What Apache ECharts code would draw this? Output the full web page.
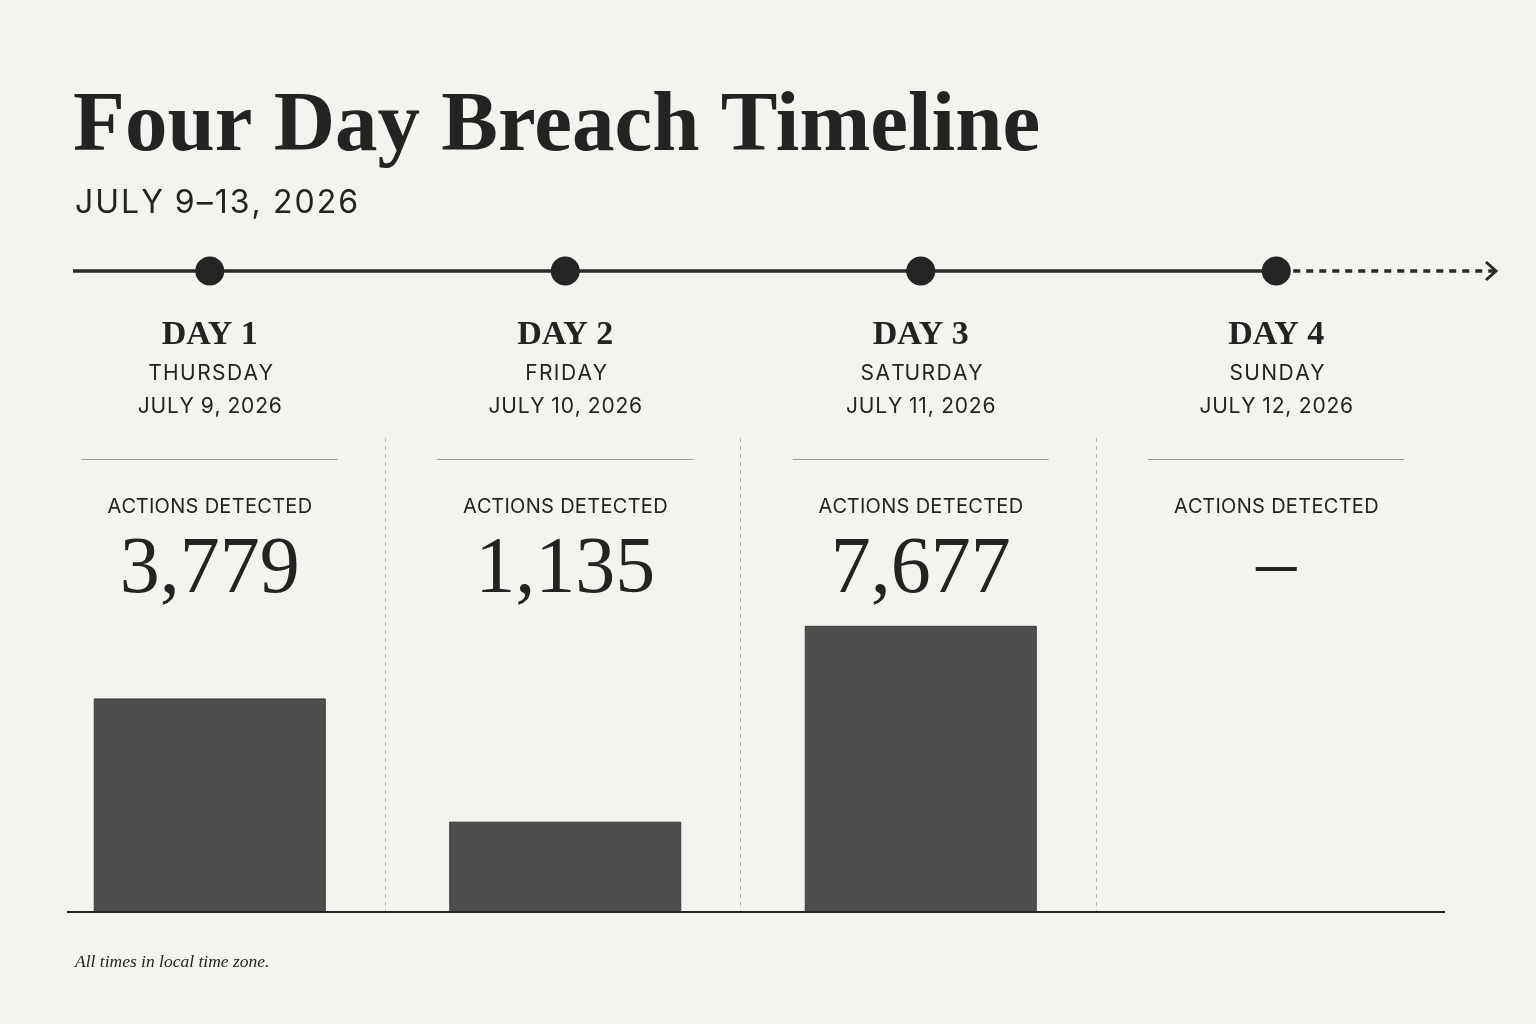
<!DOCTYPE html>
<html><head><meta charset="utf-8">
<script src="https://cdn.jsdelivr.net/npm/echarts@6/dist/echarts.min.js"></script>
<style>html,body{margin:0;background:#f4f3ef}#c{width:1536px;height:1024px}</style>
</head><body><div id="c"></div>
<script>
const days = ['DAY 1', 'DAY 2', 'DAY 3', 'DAY 4'];
const weekdays = ['THURSDAY', 'FRIDAY', 'SATURDAY', 'SUNDAY'];
const dates = ['JULY 9, 2026', 'JULY 10, 2026', 'JULY 11, 2026', 'JULY 12, 2026'];
const actions = [3779, 1135, 7677, null];
const title = 'Four Day Breach Timeline';
const subtitle = 'JULY 9–13, 2026';
const metricLabel = 'ACTIONS DETECTED';
const footnote = 'All times in local time zone.';

const INK = '#232323';
const SERIF = "'Liberation Serif', 'DejaVu Serif', serif";
const SANS = "Inter, 'Noto Sans', sans-serif";

const measureCtx = document.createElement('canvas').getContext('2d');
// letter-spaced text built from individual glyph texts
function spacedText(str, x, y, size, spacing, align, weight) {
  const font = (weight || 'normal') + ' ' + size + 'px ' + SANS;
  measureCtx.font = font;
  const chars = Array.from(str);
  const total = measureCtx.measureText(str).width + spacing * (chars.length - 1);
  const start = align === 'center' ? x - total / 2 : x;
  const kids = [];
  chars.forEach((c, i) => {
    const prefixW = measureCtx.measureText(chars.slice(0, i).join('')).width;
    kids.push({type: 'text', x: start + prefixW + spacing * i, y: y,
      style: {text: c, fontFamily: SANS, fontWeight: weight || 'normal', fontSize: size, fill: INK, align: 'left', verticalAlign: 'middle'}});
  });
  return {type: 'group', children: kids};
}

const chart = echarts.init(document.getElementById('c'), null, {renderer: 'canvas'});
const gridL = 32, gridR = 82;
chart.setOption({
  backgroundColor: '#f4f3ef',
  animation: false,
  title: [
    {text: title, left: 68, top: 81, textStyle: {fontFamily: SERIF, fontWeight: 'bold', fontSize: 85, color: INK}},
    {text: footnote, left: 70, top: 948, textStyle: {fontFamily: SERIF, fontStyle: 'italic', fontWeight: 'normal', fontSize: 17.5, color: INK}}
  ],
  grid: [
    {left: gridL, right: gridR, top: 438, bottom: 112},
    {left: gridL, right: gridR, top: 261, height: 20}
  ],
  xAxis: [
    {type: 'category', gridIndex: 0, data: days, axisLine: {show: false}, axisTick: {show: false}, axisLabel: {show: false}},
    {type: 'category', gridIndex: 1, data: days, axisLine: {show: false}, axisTick: {show: false}, axisLabel: {show: false}}
  ],
  yAxis: [
    {type: 'log', gridIndex: 0, min: 470, max: 48000, show: false, splitLine: {show: false}},
    {type: 'category', gridIndex: 1, data: ['timeline'], show: false}
  ],
  series: [
    {type: 'bar', xAxisIndex: 0, yAxisIndex: 0, data: actions, barWidth: 232,
     itemStyle: {color: '#4e4e4e', borderColor: '#3a3a3a', borderWidth: 1}, z: 3},
    {type: 'scatter', xAxisIndex: 1, yAxisIndex: 1, data: days.map(d => [d, 'timeline']),
     symbol: 'circle', symbolSize: 29, itemStyle: {color: '#242424', opacity: 1}, z: 10}
  ]
});

const cx = days.map(d => chart.convertToPixel({xAxisIndex: 0}, d));
const g = [];
g.push(spacedText(subtitle, 75, 203, 32, 2, 'left'));
// timeline line
const lastX = chart.convertToPixel({xAxisIndex: 1}, days[days.length - 1]);
g.push({type: 'line', shape: {x1: 73, y1: 271, x2: lastX, y2: 271}, style: {stroke: '#2a2a2a', lineWidth: 3.5}, z: 1});
g.push({type: 'line', shape: {x1: lastX + 17, y1: 271, x2: 1495, y2: 271}, style: {stroke: '#2a2a2a', lineWidth: 3.5, lineDash: [7, 6]}, z: 1});
g.push({type: 'polyline', shape: {points: [[1486, 262], [1496, 271], [1486, 280]]}, style: {stroke: '#2a2a2a', lineWidth: 3, fill: null}, z: 1});
// baseline
g.push({type: 'line', shape: {x1: 67, y1: 912, x2: 1445, y2: 912}, style: {stroke: '#222', lineWidth: 2}, z: 5});
// separators
for (let i = 0; i < cx.length - 1; i++) {
  const x = Math.round((cx[i] + cx[i + 1]) / 2) - 2.5;
  g.push({type: 'line', shape: {x1: x, y1: 438, x2: x, y2: 912}, style: {stroke: '#b9b9b4', lineWidth: 1, lineDash: [4, 4]}, z: 1});
}
days.forEach((d, i) => {
  const x = cx[i];
  g.push({type: 'text', x: x, y: 335, style: {text: d, fontFamily: SERIF, fontWeight: 'bold', fontSize: 34, fill: INK, align: 'center', verticalAlign: 'middle'}});
  g.push(spacedText(weekdays[i], x, 374, 21, 1.4, 'center'));
  g.push(spacedText(dates[i], x, 407, 21, 0.8, 'center'));
  g.push({type: 'line', shape: {x1: x - 128, y1: 459.5, x2: x + 128, y2: 459.5}, style: {stroke: '#9a9a96', lineWidth: 1}});
  g.push(spacedText(metricLabel, x, 507, 20, 0.3, 'center'));
  const v = actions[i];
  g.push({type: 'text', x: x, y: v == null ? 567 : 571, style: {text: v == null ? '–' : v.toLocaleString('en-US'), fontFamily: SERIF, fontSize: 80, fill: INK, align: 'center', verticalAlign: 'middle'}});
});
chart.setOption({graphic: {elements: g}});
</script></body></html>
